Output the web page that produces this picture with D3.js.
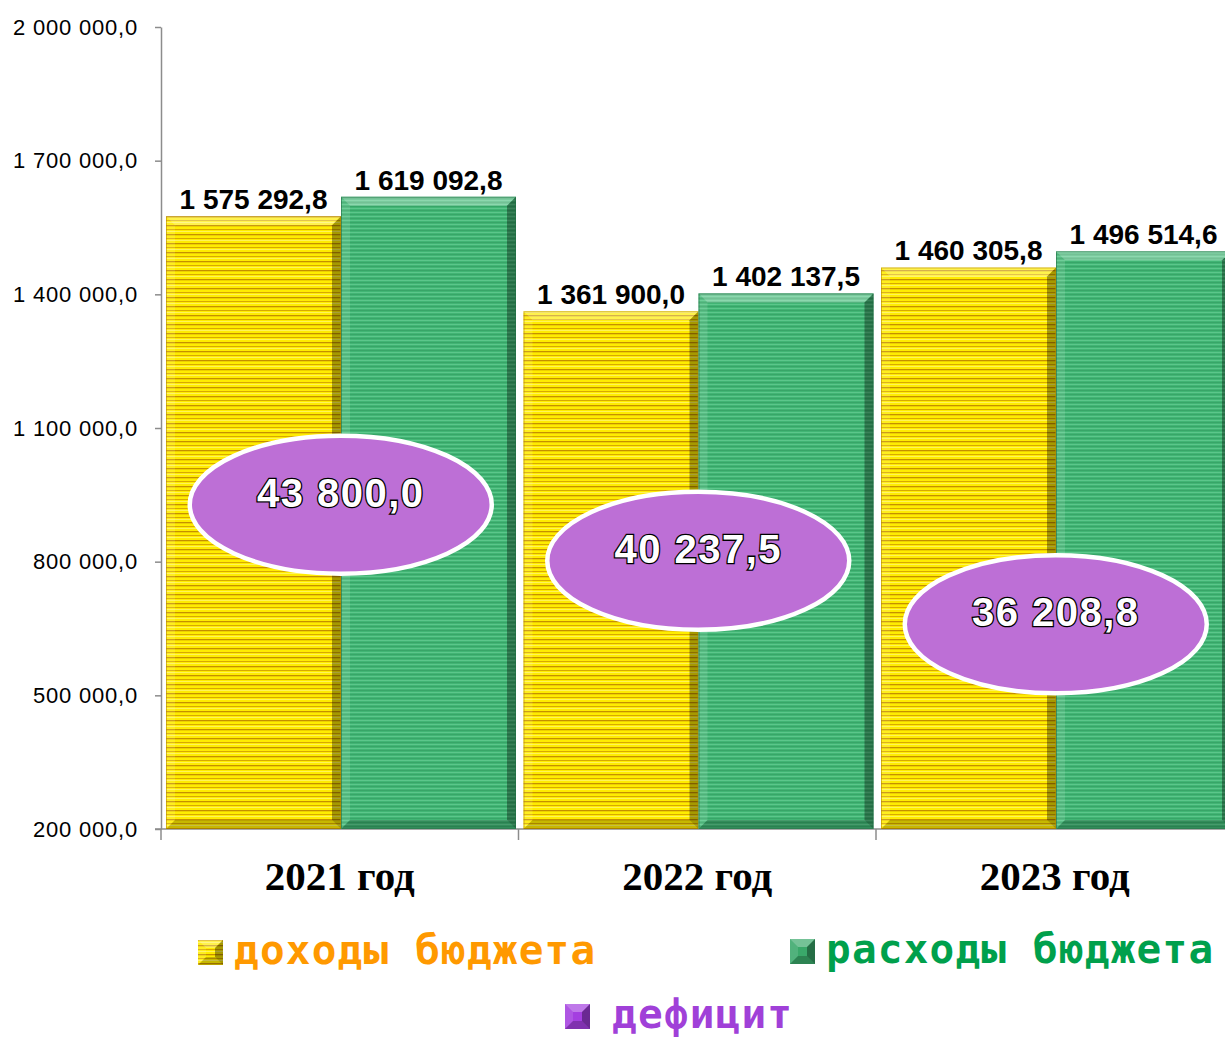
<!DOCTYPE html>
<html>
<head>
<meta charset="utf-8">
<script src="https://cdn.jsdelivr.net/npm/d3@7"></script>
<style>
  body { margin: 0; background: #fff; }
  svg { display: block; }
</style>
</head>
<body>
<svg></svg>
<script>
const years = ['2021 год', '2022 год', '2023 год'];
const income = [1575292.8, 1361900.0, 1460305.8];
const expense = [1619092.8, 1402137.5, 1496514.6];
const deficit = [43800.0, 40237.5, 36208.8];
const yTicks = [200000, 500000, 800000, 1100000, 1400000, 1700000, 2000000];
const seriesNames = ['доходы бюджета', 'расходы бюджета', 'дефицит'];

const W = 1225, H = 1039;
const svg = d3.select('svg').attr('width', W).attr('height', H);
const defs = svg.append('defs');

// stripe patterns for the bars
const pY = defs.append('pattern').attr('id', 'stripeY')
  .attr('patternUnits', 'userSpaceOnUse').attr('width', 10).attr('height', 9);
pY.append('rect').attr('width', 10).attr('height', 9).attr('fill', '#ffec00');
pY.append('rect').attr('y', 0).attr('width', 10).attr('height', 1.3).attr('fill', '#c58f00');
pY.append('rect').attr('y', 4).attr('width', 10).attr('height', 1).attr('fill', '#d9a800');
pY.append('rect').attr('y', 6).attr('width', 10).attr('height', 1).attr('fill', '#fff35a');

const pG = defs.append('pattern').attr('id', 'stripeG')
  .attr('patternUnits', 'userSpaceOnUse').attr('width', 10).attr('height', 4);
pG.append('rect').attr('width', 10).attr('height', 4).attr('fill', '#41b574');
pG.append('rect').attr('y', 0).attr('width', 10).attr('height', 1).attr('fill', '#5cc68b');
pG.append('rect').attr('y', 2).attr('width', 10).attr('height', 1).attr('fill', '#38a568');

const fmt = v => d3.format(',.1f')(v).replace(/,/g, ' ').replace('.', ',');

const y = d3.scaleLinear().domain([200000, 2000000]).range([829, 27]);
const y2 = d3.scaleLinear().domain([30000, 50000]).range([722, 407]);
const x = d3.scaleBand().domain(years).range([161, 161 + 3 * 357.5]);
const xs = d3.scaleBand().domain(['inc', 'exp']).range([5, 355]);

// y axis
const yAxis = svg.append('g')
  .attr('transform', 'translate(161,0)')
  .call(d3.axisLeft(y).tickValues(yTicks).tickSize(6).tickSizeOuter(0).tickFormat(fmt));
yAxis.select('.domain').attr('stroke', '#8c8c8c').attr('stroke-width', 1.5);
yAxis.selectAll('.tick line').attr('stroke', '#8c8c8c').attr('stroke-width', 1.5);
yAxis.selectAll('.tick text')
  .attr('x', -23)
  .attr('font-family', 'Liberation Sans, Arial, sans-serif')
  .attr('font-size', 22)
  .attr('letter-spacing', 0.8)
  .attr('fill', '#000');

// x axis
const xAxis = svg.append('g').attr('transform', 'translate(0,829)');
xAxis.append('line').attr('x1', 155).attr('x2', W).attr('stroke', '#8c8c8c').attr('stroke-width', 1.5);
xAxis.selectAll('line.tk').data(years.concat(['end']))
  .enter().append('line').attr('class', 'tk')
  .attr('x1', (d, i) => i < 3 ? x(d) : x.range()[1])
  .attr('x2', (d, i) => i < 3 ? x(d) : x.range()[1])
  .attr('y1', 0).attr('y2', 11)
  .attr('stroke', '#8c8c8c').attr('stroke-width', 1.5);
xAxis.selectAll('text').data(years).enter().append('text')
  .attr('x', d => x(d) + x.bandwidth() / 2)
  .attr('y', 61)
  .attr('text-anchor', 'middle')
  .attr('font-family', 'Liberation Serif, Times New Roman, serif')
  .attr('font-weight', 'bold')
  .attr('font-size', 41)
  .text(d => d);

// bars
const bars = [];
years.forEach((yr, i) => {
  bars.push({ yr, key: 'inc', v: income[i], fill: 'url(#stripeY)', edge: '#b58a00' });
  bars.push({ yr, key: 'exp', v: expense[i], fill: 'url(#stripeG)', edge: '#1f6e42' });
});

function bevel(g, x0, y0, w, h, b) {
  const x1 = x0 + w, y1 = y0 + h;
  g.append('polygon')
    .attr('points', [[x0, y0], [x1, y0], [x1 - b, y0 + b], [x0 + b, y0 + b]].join(' '))
    .attr('fill', '#fff').attr('opacity', 0.3);
  g.append('polygon')
    .attr('points', [[x0, y0], [x0 + b, y0 + b], [x0 + b, y1 - b], [x0, y1]].join(' '))
    .attr('fill', '#fff').attr('opacity', 0.12);
  g.append('polygon')
    .attr('points', [[x1, y0], [x1, y1], [x1 - b, y1 - b], [x1 - b, y0 + b]].join(' '))
    .attr('fill', '#000').attr('opacity', 0.35);
  g.append('polygon')
    .attr('points', [[x0, y1], [x1, y1], [x1 - b, y1 - b], [x0 + b, y1 - b]].join(' '))
    .attr('fill', '#000').attr('opacity', 0.22);
}

const barG = svg.append('g');
bars.forEach(d => {
  const bx = x(d.yr) + xs(d.key);
  const by = y(d.v);
  const bw = xs.bandwidth();
  const bh = y(200000) - by;
  const g = barG.append('g');
  g.append('rect').attr('x', bx).attr('y', by).attr('width', bw).attr('height', bh)
    .attr('fill', d.fill);
  bevel(g, bx, by, bw, bh, 9);
  g.append('rect').attr('x', bx + 0.5).attr('y', by + 0.5).attr('width', bw - 1).attr('height', bh - 1)
    .attr('fill', 'none').attr('stroke', d.edge).attr('stroke-width', 1).attr('opacity', 0.6);
  g.append('text')
    .attr('x', bx + bw / 2)
    .attr('y', by - 7)
    .attr('text-anchor', 'middle')
    .attr('font-family', 'Liberation Sans, Arial, sans-serif')
    .attr('font-weight', 'bold')
    .attr('font-size', 28)
    .text(fmt(d.v));
});

// deficit ellipses
const defG = svg.append('g');
years.forEach((yr, i) => {
  const cx = x(yr) + x.bandwidth() / 2 + 1;
  const cy = y2(deficit[i]);
  defG.append('ellipse').attr('cx', cx).attr('cy', cy).attr('rx', 151).attr('ry', 69)
    .attr('fill', '#bd6fd6').attr('stroke', '#fff').attr('stroke-width', 4.5);
  defG.append('text')
    .attr('x', cx).attr('y', cy + 2)
    .attr('text-anchor', 'middle')
    .attr('font-family', 'Liberation Sans, Arial, sans-serif')
    .attr('font-weight', 'bold')
    .attr('font-size', 40)
    .attr('letter-spacing', 1.5)
    .attr('fill', '#fff')
    .attr('stroke', '#000')
    .attr('stroke-width', 2.6)
    .attr('paint-order', 'stroke')
    .text(fmt(deficit[i]));
});

// legend
const legend = [
  { name: seriesNames[0], x: 198, y: 940, gap: 11, fill: 'url(#stripeY)', color: '#ff9900' },
  { name: seriesNames[1], x: 790, y: 939, gap: 11, fill: '#3aa86a', color: '#00a04c' },
  { name: seriesNames[2], x: 565, y: 1004, gap: 22, fill: '#a43fe0', color: '#a040d8' }
];
const legG = svg.append('g');
legend.forEach(d => {
  const s = 25;
  legG.append('rect').attr('x', d.x).attr('y', d.y).attr('width', s).attr('height', s).attr('fill', d.fill);
  const g = legG.append('g');
  bevel(g, d.x, d.y, s, s, 8);
  legG.append('text')
    .attr('x', d.x + s + d.gap)
    .attr('y', d.y + 24)
    .attr('font-family', 'DejaVu Sans Mono, monospace')
    .attr('font-weight', 'bold')
    .attr('font-size', 41)
    .attr('letter-spacing', 1.2)
    .attr('fill', d.color)
    .text(d.name);
});
</script>
</body>
</html>
